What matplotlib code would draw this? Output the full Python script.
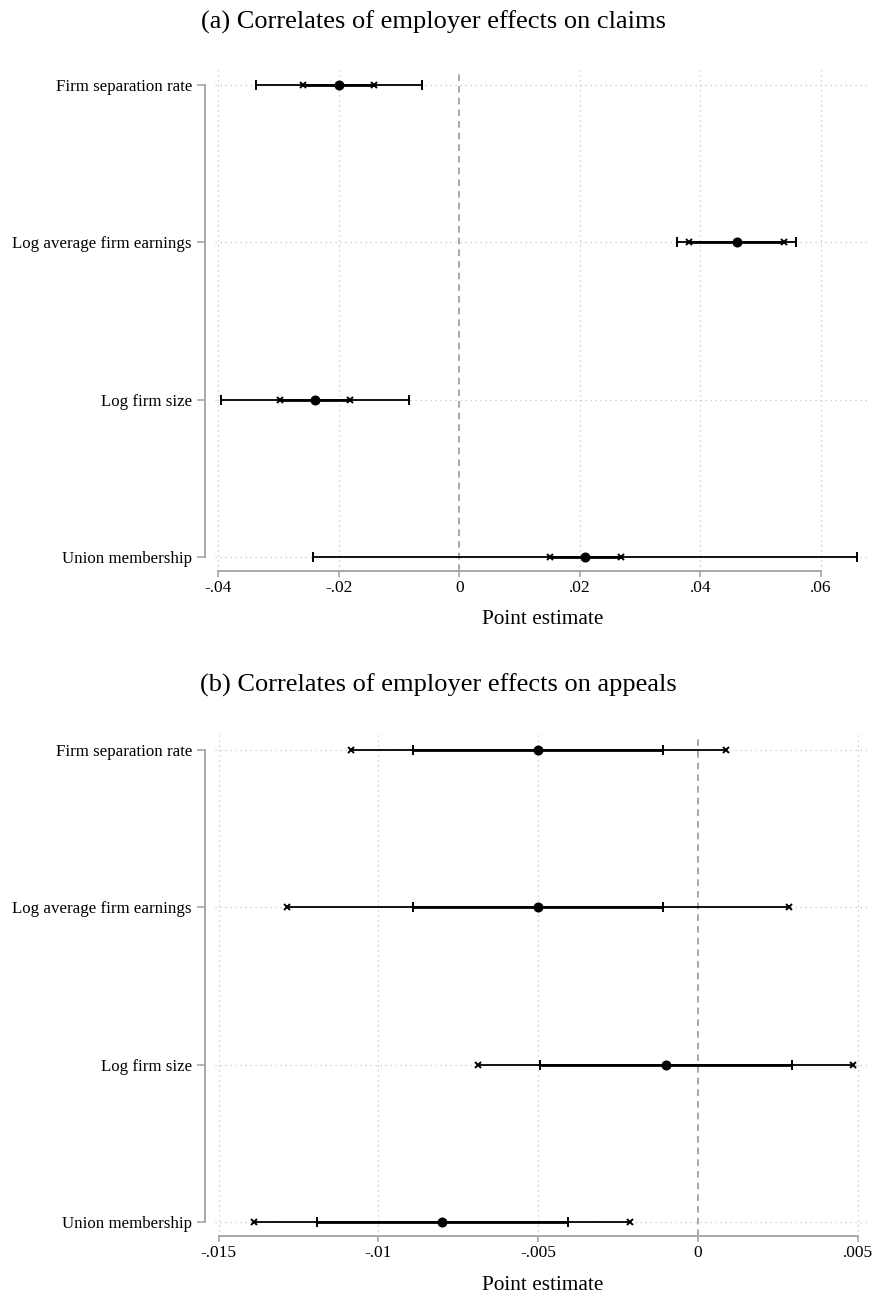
import matplotlib
matplotlib.use("Agg")
import matplotlib.pyplot as plt

plt.rcParams["font.family"] = ["Liberation Serif", "DejaVu Serif"]

categories = ["Firm separation rate", "Log average firm earnings",
              "Log firm size", "Union membership"]

# Panel (a): claims
claims_est = [-0.0200, 0.0461, -0.0240, 0.0209]
claims_outer_lo = [-0.0337, 0.0362, -0.0396, -0.0242]
claims_outer_hi = [-0.0062, 0.0559, -0.0083, 0.0661]
claims_inner_lo = [-0.0259, 0.0382, -0.0298, 0.0151]
claims_inner_hi = [-0.0141, 0.0539, -0.0181, 0.0269]
claims_ticks = [-0.04, -0.02, 0, 0.02, 0.04, 0.06]
claims_ticklabels = ["-.04", "-.02", "0", ".02", ".04", ".06"]

# Panel (b): appeals
appeals_est = [-0.0050, -0.0050, -0.0010, -0.0080]
appeals_outer_lo = [-0.01087, -0.01285, -0.00687, -0.0139]
appeals_outer_hi = [0.00087, 0.00284, 0.00486, -0.00213]
appeals_inner_lo = [-0.00892, -0.00892, -0.00493, -0.01193]
appeals_inner_hi = [-0.00108, -0.00108, 0.00293, -0.00408]
appeals_ticks = [-0.015, -0.01, -0.005, 0, 0.005]
appeals_ticklabels = ["-.015", "-.01", "-.005", "0", ".005"]

W, H = 873, 1295
fig = plt.figure(figsize=(W / 100, H / 100), dpi=100)

AXIS_GREY = "#a8a8a8"
GRID_GREY = "#c4c4c4"


def box(left, top, right, bottom):
    return [left / W, 1 - bottom / H, (right - left) / W, (bottom - top) / H]


def panel(ax, est, olo, ohi, ilo, ihi, ticks, ticklabels, xlim, ylim,
          outer_cap, inner_cap, height_px):
    ypos = list(range(1, len(categories) + 1))
    ax.set_xlim(*xlim)
    ax.set_ylim(*ylim)

    # grid lines
    for t in ticks:
        if t == 0:
            ax.axvline(0, color="#9a9a9a", lw=1.2, ls=(0, (4, 3)), zorder=1)
        else:
            ax.axvline(t, color=GRID_GREY, lw=0.9, ls=(0, (1, 3)), zorder=0)
    for y in ypos:
        ax.axhline(y, color=GRID_GREY, lw=0.9, ls=(0, (1, 3)), zorder=0)

    for y, e, a, b, c, d in zip(ypos, est, olo, ohi, ilo, ihi):
        ax.plot([a, b], [y, y], color="black", lw=1.3, zorder=3,
                solid_capstyle="butt")
        ax.plot([c, d], [y, y], color="black", lw=2.0, zorder=4,
                solid_capstyle="butt")
        for xs, style in (((a, b), outer_cap), ((c, d), inner_cap)):
            if style == "|":
                ax.plot(xs, [y, y], ls="none", marker="|", ms=6.5, mew=1.4,
                        color="black", zorder=5)
            else:
                ax.plot(xs, [y, y], ls="none", marker="x", ms=3.8, mew=1.4,
                        color="black", zorder=5)
        ax.plot([e], [y], ls="none", marker="o", ms=6.2, color="black",
                zorder=6)

    ax.set_yticks(ypos)
    ax.set_yticklabels(categories)
    ax.set_xticks(ticks)
    ax.set_xticklabels(ticklabels)
    ax.set_xlabel("Point estimate", fontsize=15.3)
    ax.xaxis.set_label_coords(0.5, -49 / height_px)
    ax.xaxis.label.set_va("center")

    for s in ("top", "right"):
        ax.spines[s].set_visible(False)
    ax.spines["left"].set_position(("outward", 7.2))
    ax.spines["left"].set_bounds(ypos[0], ypos[-1])
    ax.spines["bottom"].set_bounds(ticks[0], ticks[-1])
    for s in ("left", "bottom"):
        ax.spines[s].set_color(AXIS_GREY)
        ax.spines[s].set_linewidth(1.4)
    ax.tick_params(axis="y", length=5.8, width=1.2, color=AXIS_GREY, pad=3.6,
                   labelsize=12.2)
    ax.tick_params(axis="x", length=4, width=1.2, color=AXIS_GREY, pad=2.5,
                   labelsize=12.5)


# both panels share the same geometry, the second shifted down by 665 px
ax1 = fig.add_axes(box(215, 70, 870, 571))
panel(ax1, claims_est, claims_outer_lo, claims_outer_hi, claims_inner_lo,
      claims_inner_hi, claims_ticks, claims_ticklabels,
      (-0.04053, 0.06818), (4.089, 0.904), "|", "x", 501)

ax2 = fig.add_axes(box(215, 735, 870, 1236))
panel(ax2, appeals_est, appeals_outer_lo, appeals_outer_hi, appeals_inner_lo,
      appeals_inner_hi, appeals_ticks, appeals_ticklabels,
      (-0.01511, 0.00538), (4.089, 0.904), "x", "|", 501)

fig.text(433.5 / W, 1 - 22 / H, "(a) Correlates of employer effects on claims",
         ha="center", va="center", fontsize=19)
fig.text(438 / W, 1 - 685 / H, "(b) Correlates of employer effects on appeals",
         ha="center", va="center", fontsize=19)

fig.savefig("out.png", dpi=100, facecolor="white")
